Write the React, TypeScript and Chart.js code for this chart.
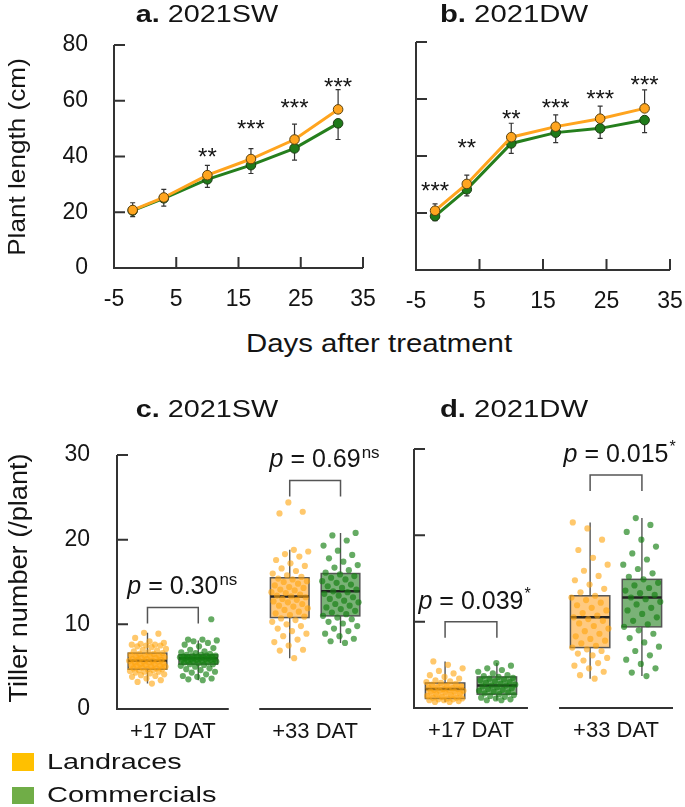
import React, { useEffect, useRef } from "react";
import { Chart, registerables } from "chart.js";
Chart.register(...registerables);

const FONT = "'Liberation Sans', Arial, Helvetica, sans-serif";
Chart.defaults.font.family = FONT;

// ---------- Plant length (panels a, b) ----------
const DAYS = [-2, 3, 10, 17, 24, 31];
const DAY_TICKS = [-5, 5, 15, 25, 35];
const LENGTH_TICKS = [0, 20, 40, 60, 80];

const SW_LANDRACE = [20.8, 25.3, 33.3, 39.1, 46.1, 56.9];
const SW_COMMERCIAL = [20.6, 25.0, 31.8, 36.9, 42.9, 51.9];
const SW_LANDRACE_SD = [2.6, 2.9, 3.5, 3.7, 5.5, 7.1];
const SW_COMMERCIAL_SD = [2.2, 2.8, 2.9, 3.0, 4.2, 5.8];
const SW_STARS = ["", "", "**", "***", "***", "***"];
const SW_STAR_Y = [0, 0, 41.7, 51.9, 59.6, 66.8];

const DW_LANDRACE = [20.8, 30.2, 46.6, 50.3, 53.1, 56.7];
const DW_COMMERCIAL = [18.9, 28.3, 44.4, 48.2, 49.7, 52.6];
const DW_LANDRACE_SD = [2.4, 3.1, 4.9, 4.1, 4.4, 6.5];
const DW_COMMERCIAL_SD = [1.6, 2.3, 3.5, 3.5, 3.5, 4.4];
const DW_STARS = ["***", "**", "**", "***", "***", "***"];
const DW_STAR_Y = [29.8, 44.7, 55.0, 58.8, 62.0, 66.9];

// ---------- Tiller number (panels c, d) ----------
const TIMEPOINTS = ["+17 DAT", "+33 DAT"];
const TILLER_TICKS = [0, 10, 20, 30];

// box stats per timepoint: [whisker low, Q1, median, Q3, whisker high]
const SW_BOX_LANDRACE = [[3.0, 4.7, 5.7, 6.6, 9.0], [6.0, 10.8, 13.3, 15.5, 18.8]];
const SW_BOX_COMMERCIAL = [[3.4, 5.3, 6.0, 6.4, 8.1], [7.8, 11.0, 13.9, 16.0, 20.8]];
const DW_BOX_LANDRACE = [[0.7, 1.1, 2.2, 2.9, 5.4], [3.4, 7.0, 10.5, 13.0, 21.5]];
const DW_BOX_COMMERCIAL = [[0.9, 1.6, 2.6, 3.6, 5.2], [3.7, 9.4, 12.8, 14.9, 22.0]];

const SW17_LANDRACE = [3.0, 3.2, 3.4, 3.6, 3.8, 3.9, 4.0, 4.1, 4.2, 4.3, 4.4, 4.4, 4.5, 4.6, 4.6, 4.7, 4.7, 4.8, 4.8, 4.9, 5.0, 5.0, 5.1, 5.1, 5.2, 5.2, 5.3, 5.3, 5.4, 5.5, 5.5, 5.6, 5.6, 5.7, 5.7, 5.8, 5.8, 5.9, 5.9, 6.0, 6.0, 6.1, 6.2, 6.2, 6.3, 6.3, 6.4, 6.5, 6.5, 6.6, 6.7, 6.8, 6.9, 7.0, 7.1, 7.3, 7.4, 7.5, 7.5, 7.6, 7.6, 7.7, 7.8, 8.0, 8.4, 8.9, 9.0];
const SW17_COMMERCIAL = [3.4, 3.5, 3.6, 3.8, 3.9, 4.1, 4.3, 4.4, 4.6, 4.7, 4.8, 5.0, 5.1, 5.2, 5.3, 5.3, 5.4, 5.5, 5.5, 5.6, 5.6, 5.7, 5.7, 5.8, 5.8, 5.8, 5.9, 5.9, 5.9, 6.0, 6.0, 6.0, 6.0, 6.1, 6.1, 6.1, 6.2, 6.2, 6.2, 6.3, 6.3, 6.3, 6.4, 6.4, 6.5, 6.6, 6.7, 6.8, 7.0, 7.2, 7.4, 7.6, 7.8, 8.0, 8.1, 8.2, 8.2, 10.6];
const SW33_LANDRACE = [6.0, 6.9, 7.0, 7.5, 7.9, 8.2, 8.6, 8.9, 9.2, 9.5, 9.8, 10.0, 10.3, 10.5, 10.7, 10.9, 11.1, 11.3, 11.5, 11.7, 11.9, 12.1, 12.2, 12.4, 12.6, 12.7, 12.9, 13.0, 13.2, 13.3, 13.4, 13.5, 13.7, 13.8, 14.0, 14.1, 14.3, 14.4, 14.6, 14.8, 15.0, 15.1, 15.3, 15.4, 15.6, 15.8, 16.0, 16.3, 16.6, 16.9, 17.2, 17.6, 18.0, 18.3, 18.6, 18.8, 23.1, 23.3, 24.4];
const SW33_COMMERCIAL = [7.8, 8.0, 8.3, 8.6, 8.9, 9.2, 9.5, 9.8, 10.1, 10.3, 10.6, 10.8, 11.0, 11.2, 11.4, 11.6, 11.8, 12.0, 12.2, 12.4, 12.6, 12.8, 13.0, 13.2, 13.4, 13.6, 13.8, 13.9, 14.1, 14.3, 14.5, 14.7, 14.9, 15.1, 15.3, 15.5, 15.7, 15.9, 16.1, 16.4, 16.7, 17.0, 17.4, 17.8, 18.2, 18.7, 19.3, 19.9, 20.5, 20.8];
const DW17_LANDRACE = [0.7, 0.7, 0.8, 0.9, 0.9, 1.0, 1.0, 1.1, 1.1, 1.2, 1.2, 1.3, 1.4, 1.5, 1.6, 1.7, 1.8, 1.9, 1.9, 2.0, 2.0, 2.1, 2.1, 2.2, 2.2, 2.3, 2.3, 2.4, 2.5, 2.6, 2.7, 2.8, 2.9, 3.0, 3.1, 3.2, 3.4, 3.6, 3.8, 4.0, 4.3, 4.6, 5.0, 5.4];
const DW17_COMMERCIAL = [0.9, 0.9, 1.0, 1.1, 1.2, 1.3, 1.4, 1.5, 1.6, 1.7, 1.8, 1.9, 2.0, 2.1, 2.2, 2.3, 2.4, 2.5, 2.6, 2.6, 2.7, 2.8, 2.9, 3.0, 3.1, 3.2, 3.3, 3.4, 3.5, 3.6, 3.7, 3.8, 4.0, 4.2, 4.4, 4.6, 4.9, 5.2];
const DW33_LANDRACE = [3.4, 3.8, 4.2, 4.6, 4.9, 5.2, 5.5, 5.8, 6.1, 6.3, 6.6, 6.8, 7.0, 7.2, 7.5, 7.8, 8.0, 8.3, 8.6, 8.9, 9.2, 9.5, 9.8, 10.1, 10.3, 10.5, 10.7, 11.0, 11.3, 11.6, 11.9, 12.2, 12.5, 12.8, 13.0, 13.4, 13.8, 14.3, 14.8, 15.3, 15.9, 16.6, 17.4, 18.3, 19.5, 20.8, 21.5];
const DW33_COMMERCIAL = [3.7, 4.1, 4.6, 5.1, 5.6, 6.1, 6.6, 7.1, 7.6, 8.1, 8.6, 9.0, 9.4, 9.7, 10.1, 10.5, 10.9, 11.3, 11.6, 12.0, 12.3, 12.6, 12.8, 13.1, 13.3, 13.6, 13.9, 14.2, 14.5, 14.9, 15.2, 15.6, 16.1, 16.6, 17.2, 17.9, 18.7, 19.5, 20.4, 21.2, 22.0];

const SW_P = ["0.30", "0.69"];
const SW_SIG = ["ns", "ns"];
const SW_BRACKET_Y = [12, 27];
const DW_P = ["0.039", "0.015"];
const DW_SIG = ["*", "*"];
const DW_BRACKET_Y = [10, 27];

// ---------- styles ----------
const AXIS_COLOR = "#333";
const TEXT_COLOR = "#141414";
const ORANGE_LINE = "#FFA41E";
const ORANGE_POINT = "#FFA51F";
const GREEN_LINE = "#257F1D";
const GREEN_POINT = "#1E7A1A";
const TICK_LEN = 11;

const groupCenter = (g: number) => 1.1 + g * 2.8;
const SERIES_OFFSET = [-0.5, 0.5];
const BOX_HALF = 0.38;
const JITTER_SPAN = 0.74;
const jitter = (i: number) => ((((i + 1) * 0.6180339887) % 1) - 0.5) * JITTER_SPAN;

function axesPlugin(xTicks: boolean, segments: number[][] | null) {
  return {
    id: "inwardAxes",
    beforeDatasetsDraw(chart: any) {
      const { ctx, chartArea: a } = chart;
      const x = chart.scales.x;
      const y = chart.scales.y;
      ctx.save();
      ctx.strokeStyle = AXIS_COLOR;
      ctx.lineWidth = 2;
      ctx.beginPath();
      ctx.moveTo(a.left, a.top);
      ctx.lineTo(a.left, a.bottom + 1);
      const segs = segments ?? [[x.min, x.max]];
      for (const [s, e] of segs) {
        ctx.moveTo(x.getPixelForValue(s) - (s === x.min ? 1 : 0), a.bottom);
        ctx.lineTo(x.getPixelForValue(e), a.bottom);
      }
      for (const t of y.ticks) {
        if (t.value === y.min) continue;
        const py = y.getPixelForValue(t.value);
        ctx.moveTo(a.left, py);
        ctx.lineTo(a.left + TICK_LEN, py);
      }
      if (xTicks) {
        for (const t of x.ticks) {
          if (t.value === x.min) continue;
          const px = x.getPixelForValue(t.value);
          ctx.moveTo(px, a.bottom);
          ctx.lineTo(px, a.bottom - TICK_LEN);
        }
      }
      ctx.stroke();
      ctx.restore();
    },
  };
}

function errorBarPlugin() {
  return {
    id: "errorBars",
    beforeDatasetsDraw(chart: any) {
      const { ctx } = chart;
      const x = chart.scales.x;
      const y = chart.scales.y;
      ctx.save();
      ctx.strokeStyle = "#333";
      ctx.lineWidth = 1.2;
      chart.data.datasets.forEach((ds: any) => {
        ds.data.forEach((p: any, i: number) => {
          const px = x.getPixelForValue(p.x);
          const py = y.getPixelForValue(p.y);
          const ey = y.getPixelForValue(p.y + ds.dir * ds.sd[i]);
          ctx.beginPath();
          ctx.moveTo(px, py);
          ctx.lineTo(px, ey);
          ctx.moveTo(px - 2.5, ey);
          ctx.lineTo(px + 2.5, ey);
          ctx.stroke();
        });
      });
      ctx.restore();
    },
  };
}

function starsPlugin(stars: string[], starY: number[]) {
  return {
    id: "stars",
    afterDatasetsDraw(chart: any) {
      const { ctx } = chart;
      const x = chart.scales.x;
      const y = chart.scales.y;
      ctx.save();
      ctx.fillStyle = TEXT_COLOR;
      ctx.font = `24px ${FONT}`;
      ctx.textAlign = "center";
      ctx.textBaseline = "alphabetic";
      stars.forEach((s, i) => {
        if (!s) return;
        ctx.fillText(s, x.getPixelForValue(DAYS[i]), y.getPixelForValue(starY[i]) + 0.57 * 24);
      });
      ctx.restore();
    },
  };
}

function lineConfig(L: number[], C: number[], LSD: number[], CSD: number[], stars: string[], starY: number[], showY: boolean, area: any) {
  return {
    type: "line",
    data: {
      datasets: [
        {
          label: "Landraces",
          data: DAYS.map((d, i) => ({ x: d, y: L[i] })),
          borderColor: ORANGE_LINE,
          backgroundColor: ORANGE_POINT,
          pointBackgroundColor: ORANGE_POINT,
          pointBorderColor: "#5a4210",
          pointBorderWidth: 1,
          pointRadius: 4.8,
          borderWidth: 3,
          sd: LSD,
          dir: 1,
        },
        {
          label: "Commercials",
          data: DAYS.map((d, i) => ({ x: d, y: C[i] })),
          borderColor: GREEN_LINE,
          backgroundColor: GREEN_POINT,
          pointBackgroundColor: GREEN_POINT,
          pointBorderColor: "#1d3a14",
          pointBorderWidth: 1,
          pointRadius: 4.8,
          borderWidth: 3,
          sd: CSD,
          dir: -1,
        },
      ],
    },
    options: {
      responsive: false,
      animation: false,
      events: [],
      layout: { padding: { left: 0, top: area.top, right: area.right, bottom: 0 } },
      plugins: { legend: { display: false }, tooltip: { enabled: false } },
      scales: {
        x: {
          type: "linear",
          min: -5,
          max: 35,
          afterBuildTicks: (s: any) => { s.ticks = DAY_TICKS.map((v) => ({ value: v })); },
          afterFit: (s: any) => { s.height = area.xh; },
          grid: { display: false, drawTicks: false },
          border: { display: false },
          ticks: { padding: 18, font: { size: 23 }, color: TEXT_COLOR, maxRotation: 0, autoSkip: false },
        },
        y: {
          type: "linear",
          min: 0,
          max: 80,
          afterBuildTicks: (s: any) => { s.ticks = LENGTH_TICKS.map((v) => ({ value: v })); },
          afterFit: (s: any) => { s.width = area.yw; },
          grid: { display: false, drawTicks: false },
          border: { display: false },
          ticks: { display: showY, padding: 26, font: { size: 23 }, color: TEXT_COLOR },
        },
      },
    },
    plugins: [axesPlugin(true, null), errorBarPlugin(), starsPlugin(stars, starY)],
  };
}

function boxPlugin(boxes: number[][][], fills: string[], pvals: string[], sigs: string[], bracketY: number[]) {
  return {
    id: "boxes",
    beforeDatasetsDraw(chart: any) {
      const { ctx } = chart;
      const x = chart.scales.x;
      const y = chart.scales.y;
      ctx.save();
      boxes.forEach((series, s) => {
        series.forEach((st, g) => {
          const c = groupCenter(g) + SERIES_OFFSET[s];
          const xl = x.getPixelForValue(c - BOX_HALF);
          const xr = x.getPixelForValue(c + BOX_HALF);
          const xc = x.getPixelForValue(c);
          const [lo, q1, med, q3, hi] = st.map((v) => y.getPixelForValue(v));
          ctx.strokeStyle = "#555";
          ctx.lineWidth = 1.4;
          ctx.beginPath();
          ctx.moveTo(xc, lo);
          ctx.lineTo(xc, q1);
          ctx.moveTo(xc, q3);
          ctx.lineTo(xc, hi);
          ctx.stroke();
          ctx.fillStyle = fills[s];
          ctx.fillRect(xl, q3, xr - xl, q1 - q3);
          ctx.strokeStyle = "#555";
          ctx.lineWidth = 1.5;
          ctx.strokeRect(xl, q3, xr - xl, q1 - q3);
          ctx.strokeStyle = "#222";
          ctx.lineWidth = 2.5;
          ctx.beginPath();
          ctx.moveTo(xl, med);
          ctx.lineTo(xr, med);
          ctx.stroke();
        });
      });
      ctx.restore();
    },
    afterDatasetsDraw(chart: any) {
      const { ctx } = chart;
      const x = chart.scales.x;
      const y = chart.scales.y;
      ctx.save();
      pvals.forEach((pv, g) => {
        const x1 = x.getPixelForValue(groupCenter(g) + SERIES_OFFSET[0]);
        const x2 = x.getPixelForValue(groupCenter(g) + SERIES_OFFSET[1]);
        const by = y.getPixelForValue(bracketY[g]);
        ctx.strokeStyle = "#555";
        ctx.lineWidth = 1.5;
        ctx.beginPath();
        ctx.moveTo(x1, by + 16);
        ctx.lineTo(x1, by);
        ctx.lineTo(x2, by);
        ctx.lineTo(x2, by + 16);
        ctx.stroke();
        const base = by - 13;
        const main = 25;
        ctx.fillStyle = TEXT_COLOR;
        ctx.textAlign = "left";
        ctx.textBaseline = "alphabetic";
        ctx.font = `italic ${main}px ${FONT}`;
        const wP = ctx.measureText("p").width;
        ctx.font = `${main}px ${FONT}`;
        const rest = " = " + pv;
        const wR = ctx.measureText(rest).width;
        let tx = (x1 + x2) / 2 - (wP + wR) / 2;
        ctx.font = `italic ${main}px ${FONT}`;
        ctx.fillText("p", tx, base);
        tx += wP;
        ctx.font = `${main}px ${FONT}`;
        ctx.fillText(rest, tx, base);
        tx += wR;
        if (sigs[g] === "ns") {
          ctx.font = `17px ${FONT}`;
          ctx.fillText("ns", tx + 1, base - 9);
        } else {
          ctx.font = `16px ${FONT}`;
          ctx.fillText(sigs[g], tx + 1, base - 10);
        }
      });
      ctx.restore();
    },
  };
}

function boxConfig(landPts: number[][], commPts: number[][], boxL: number[][], boxC: number[][], pvals: string[], sigs: string[], bracketY: number[], showY: boolean, area: any) {
  const pts = (groups: number[][], s: number) =>
    groups.flatMap((vals, g) => vals.map((v, i) => ({ x: groupCenter(g) + SERIES_OFFSET[s] + jitter(i), y: v })));
  return {
    type: "scatter",
    data: {
      datasets: [
        { label: "Landraces", data: pts(landPts, 0), backgroundColor: "rgba(255,163,10,0.6)", pointRadius: 3.1, pointBorderWidth: 0 },
        { label: "Commercials", data: pts(commPts, 1), backgroundColor: "rgba(22,128,18,0.66)", pointRadius: 3.1, pointBorderWidth: 0 },
      ],
    },
    options: {
      responsive: false,
      animation: false,
      events: [],
      layout: { padding: { left: 0, top: area.top, right: area.right, bottom: 0 } },
      plugins: { legend: { display: false }, tooltip: { enabled: false } },
      scales: {
        x: {
          type: "linear",
          min: 0,
          max: 5,
          afterBuildTicks: (s: any) => { s.ticks = TIMEPOINTS.map((_, g) => ({ value: groupCenter(g) })); },
          afterFit: (s: any) => { s.height = area.xh; },
          grid: { display: false, drawTicks: false },
          border: { display: false },
          ticks: {
            padding: 10,
            font: { size: 22 },
            color: TEXT_COLOR,
            maxRotation: 0,
            autoSkip: false,
            callback: (_v: any, i: number) => TIMEPOINTS[i],
          },
        },
        y: {
          type: "linear",
          min: 0,
          max: 30,
          afterBuildTicks: (s: any) => { s.ticks = TILLER_TICKS.map((v) => ({ value: v })); },
          afterFit: (s: any) => { s.width = area.yw; },
          grid: { display: false, drawTicks: false },
          border: { display: false },
          ticks: { display: showY, padding: 27, font: { size: 23 }, color: TEXT_COLOR },
        },
      },
    },
    plugins: [
      axesPlugin(false, [[0, 2.2], [2.8, 5]]),
      boxPlugin([boxL, boxC], ["rgba(255,170,50,0.62)", "rgba(40,130,35,0.62)"], pvals, sigs, bracketY),
    ],
  };
}

function ChartCanvas({ left, top, width, height, make }: any) {
  const ref = useRef<HTMLCanvasElement>(null);
  useEffect(() => {
    const chart = new Chart(ref.current as HTMLCanvasElement, make());
    return () => chart.destroy();
  }, []);
  return (
    <canvas
      ref={ref}
      width={width}
      height={height}
      style={{ position: "absolute", left, top, width, height }}
    />
  );
}

function Txt({ x, capTop, size, sx = 1, anchor = "center", children }: any) {
  const top = capTop - 0.13 * size;
  const transform = anchor === "center" ? `translateX(-50%) scaleX(${sx})` : `scaleX(${sx})`;
  return (
    <div
      style={{
        position: "absolute",
        left: x,
        top,
        fontSize: size,
        lineHeight: 1,
        fontFamily: FONT,
        whiteSpace: "nowrap",
        color: TEXT_COLOR,
        transform,
        transformOrigin: anchor === "center" ? "50% 0" : "0 0",
      }}
    >
      {children}
    </div>
  );
}

function VTxt({ baselineX, cy, size, sx = 1, children }: any) {
  const cx = baselineX - 0.3465 * size;
  return (
    <div
      style={{
        position: "absolute",
        left: cx,
        top: cy,
        fontSize: size,
        lineHeight: 1,
        fontFamily: FONT,
        whiteSpace: "nowrap",
        color: TEXT_COLOR,
        transform: `translate(-50%, -50%) rotate(-90deg) scaleX(${sx})`,
      }}
    >
      {children}
    </div>
  );
}

export default function App() {
  return (
    <div style={{ position: "absolute", left: 0, top: 0, width: 685, height: 807, background: "#fff", overflow: "hidden" }}>
      <ChartCanvas
        left={0} top={3} width={395} height={322}
        make={() => lineConfig(SW_LANDRACE, SW_COMMERCIAL, SW_LANDRACE_SD, SW_COMMERCIAL_SD, SW_STARS, SW_STAR_Y, true, { top: 42, right: 32, yw: 114, xh: 57 })}
      />
      <ChartCanvas
        left={330} top={25} width={372} height={300}
        make={() => lineConfig(DW_LANDRACE, DW_COMMERCIAL, DW_LANDRACE_SD, DW_COMMERCIAL_SD, DW_STARS, DW_STAR_Y, false, { top: 17, right: 32, yw: 86, xh: 55 })}
      />
      <ChartCanvas
        left={0} top={413} width={385} height={347}
        make={() => boxConfig([SW17_LANDRACE, SW33_LANDRACE], [SW17_COMMERCIAL, SW33_COMMERCIAL], SW_BOX_LANDRACE, SW_BOX_COMMERCIAL, SW_P, SW_SIG, SW_BRACKET_Y, true, { top: 42, right: 14, yw: 117, xh: 51 })}
      />
      <ChartCanvas
        left={385} top={425} width={300} height={330}
        make={() => boxConfig([DW17_LANDRACE, DW33_LANDRACE], [DW17_COMMERCIAL, DW33_COMMERCIAL], DW_BOX_LANDRACE, DW_BOX_COMMERCIAL, DW_P, DW_SIG, DW_BRACKET_Y, false, { top: 24, right: 12, yw: 29, xh: 47 })}
      />

      <Txt x={206.5} capTop={5} size={24} sx={1.2}><b>a.</b> 2021SW</Txt>
      <Txt x={514} capTop={5} size={24} sx={1.22}><b>b.</b> 2021DW</Txt>
      <Txt x={206.5} capTop={400} size={24} sx={1.2}><b>c.</b> 2021SW</Txt>
      <Txt x={514} capTop={400} size={24} sx={1.22}><b>d.</b> 2021DW</Txt>
      <Txt x={378.5} capTop={333} size={26} sx={1.13}>Days after treatment</Txt>
      <VTxt baselineX={25} cy={156.5} size={24} sx={1.09}>Plant length (cm)</VTxt>
      <VTxt baselineX={26.5} cy={578} size={25} sx={1.085}>Tiller number (/plant)</VTxt>

      <div style={{ position: "absolute", left: 12, top: 753, width: 22, height: 18, background: "#FFC000" }} />
      <div style={{ position: "absolute", left: 12, top: 787, width: 22, height: 17, background: "#70AD47" }} />
      <Txt x={47} capTop={754} size={22} sx={1.31} anchor="left">Landraces</Txt>
      <Txt x={47} capTop={787} size={22} sx={1.32} anchor="left">Commercials</Txt>
    </div>
  );
}
